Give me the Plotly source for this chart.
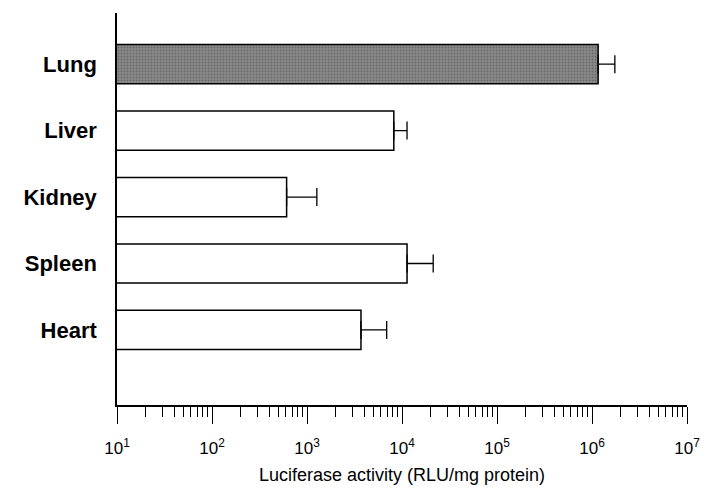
import plotly.graph_objects as go

organs = ["Heart", "Spleen", "Kidney", "Liver", "Lung"]
activity = [3.7e3, 1.13e4, 6.1e2, 8.2e3, 1.16e6]
error_plus = [3.2e3, 1.0e4, 6.6e2, 3.1e3, 5.8e5]
tick_vals = [1e1, 1e2, 1e3, 1e4, 1e5, 1e6, 1e7]
tick_text = ["10<sup>1</sup>", "10<sup>2</sup>", "10<sup>3</sup>", "10<sup>4</sup>",
             "10<sup>5</sup>", "10<sup>6</sup>", "10<sup>7</sup>"]

fill_colors = ["white", "white", "white", "white", "#8a8a8a"]
pattern_shapes = ["", "", "", "", "."]

fig = go.Figure()
fig.add_trace(go.Bar(
    y=organs, x=activity, orientation="h", width=0.59,
    marker=dict(color=fill_colors, line=dict(color="black", width=1.5),
                pattern=dict(shape=pattern_shapes, fgcolor="#dcdcdc", bgcolor="#7a7a7a",
                             size=3, solidity=0.3)),
    error_x=dict(type="data", symmetric=False, array=error_plus,
                 arrayminus=[0] * len(activity), color="black", thickness=1.3, width=9),
))

fig.update_layout(
    width=707, height=495,
    margin=dict(l=117, r=20, t=13, b=90),
    plot_bgcolor="white", paper_bgcolor="white",
    showlegend=False,
    font=dict(family="Liberation Sans, Arial, sans-serif", color="black"),
)
fig.update_xaxes(
    type="log", range=[1, 7], tickvals=tick_vals, ticktext=tick_text,
    showline=True, linecolor="black", linewidth=1.5, mirror=False, automargin=False,
    ticks="outside", ticklen=17, tickwidth=1.3, tickcolor="black",
    minor=dict(ticks="outside", ticklen=10, tickwidth=1, tickcolor="black", dtick="D1", showgrid=False),
    showgrid=False, zeroline=False,
    tickfont=dict(size=17), ticklabelstandoff=10,
    title=dict(text="Luciferase activity (RLU/mg protein)", font=dict(size=18), standoff=11),
)
fig.update_yaxes(
    range=[-1.13, 4.77], showline=True, linecolor="black", linewidth=1.5,
    ticks="", showgrid=False, zeroline=False, ticklabelstandoff=14, automargin=False,
    tickfont=dict(size=22, family="Liberation Sans, Arial, sans-serif", weight="bold"),
)

fig.write_html("out.html", config={"displayModeBar": False},
               post_script="document.body.style.margin='0';document.body.style.overflow='hidden';")
